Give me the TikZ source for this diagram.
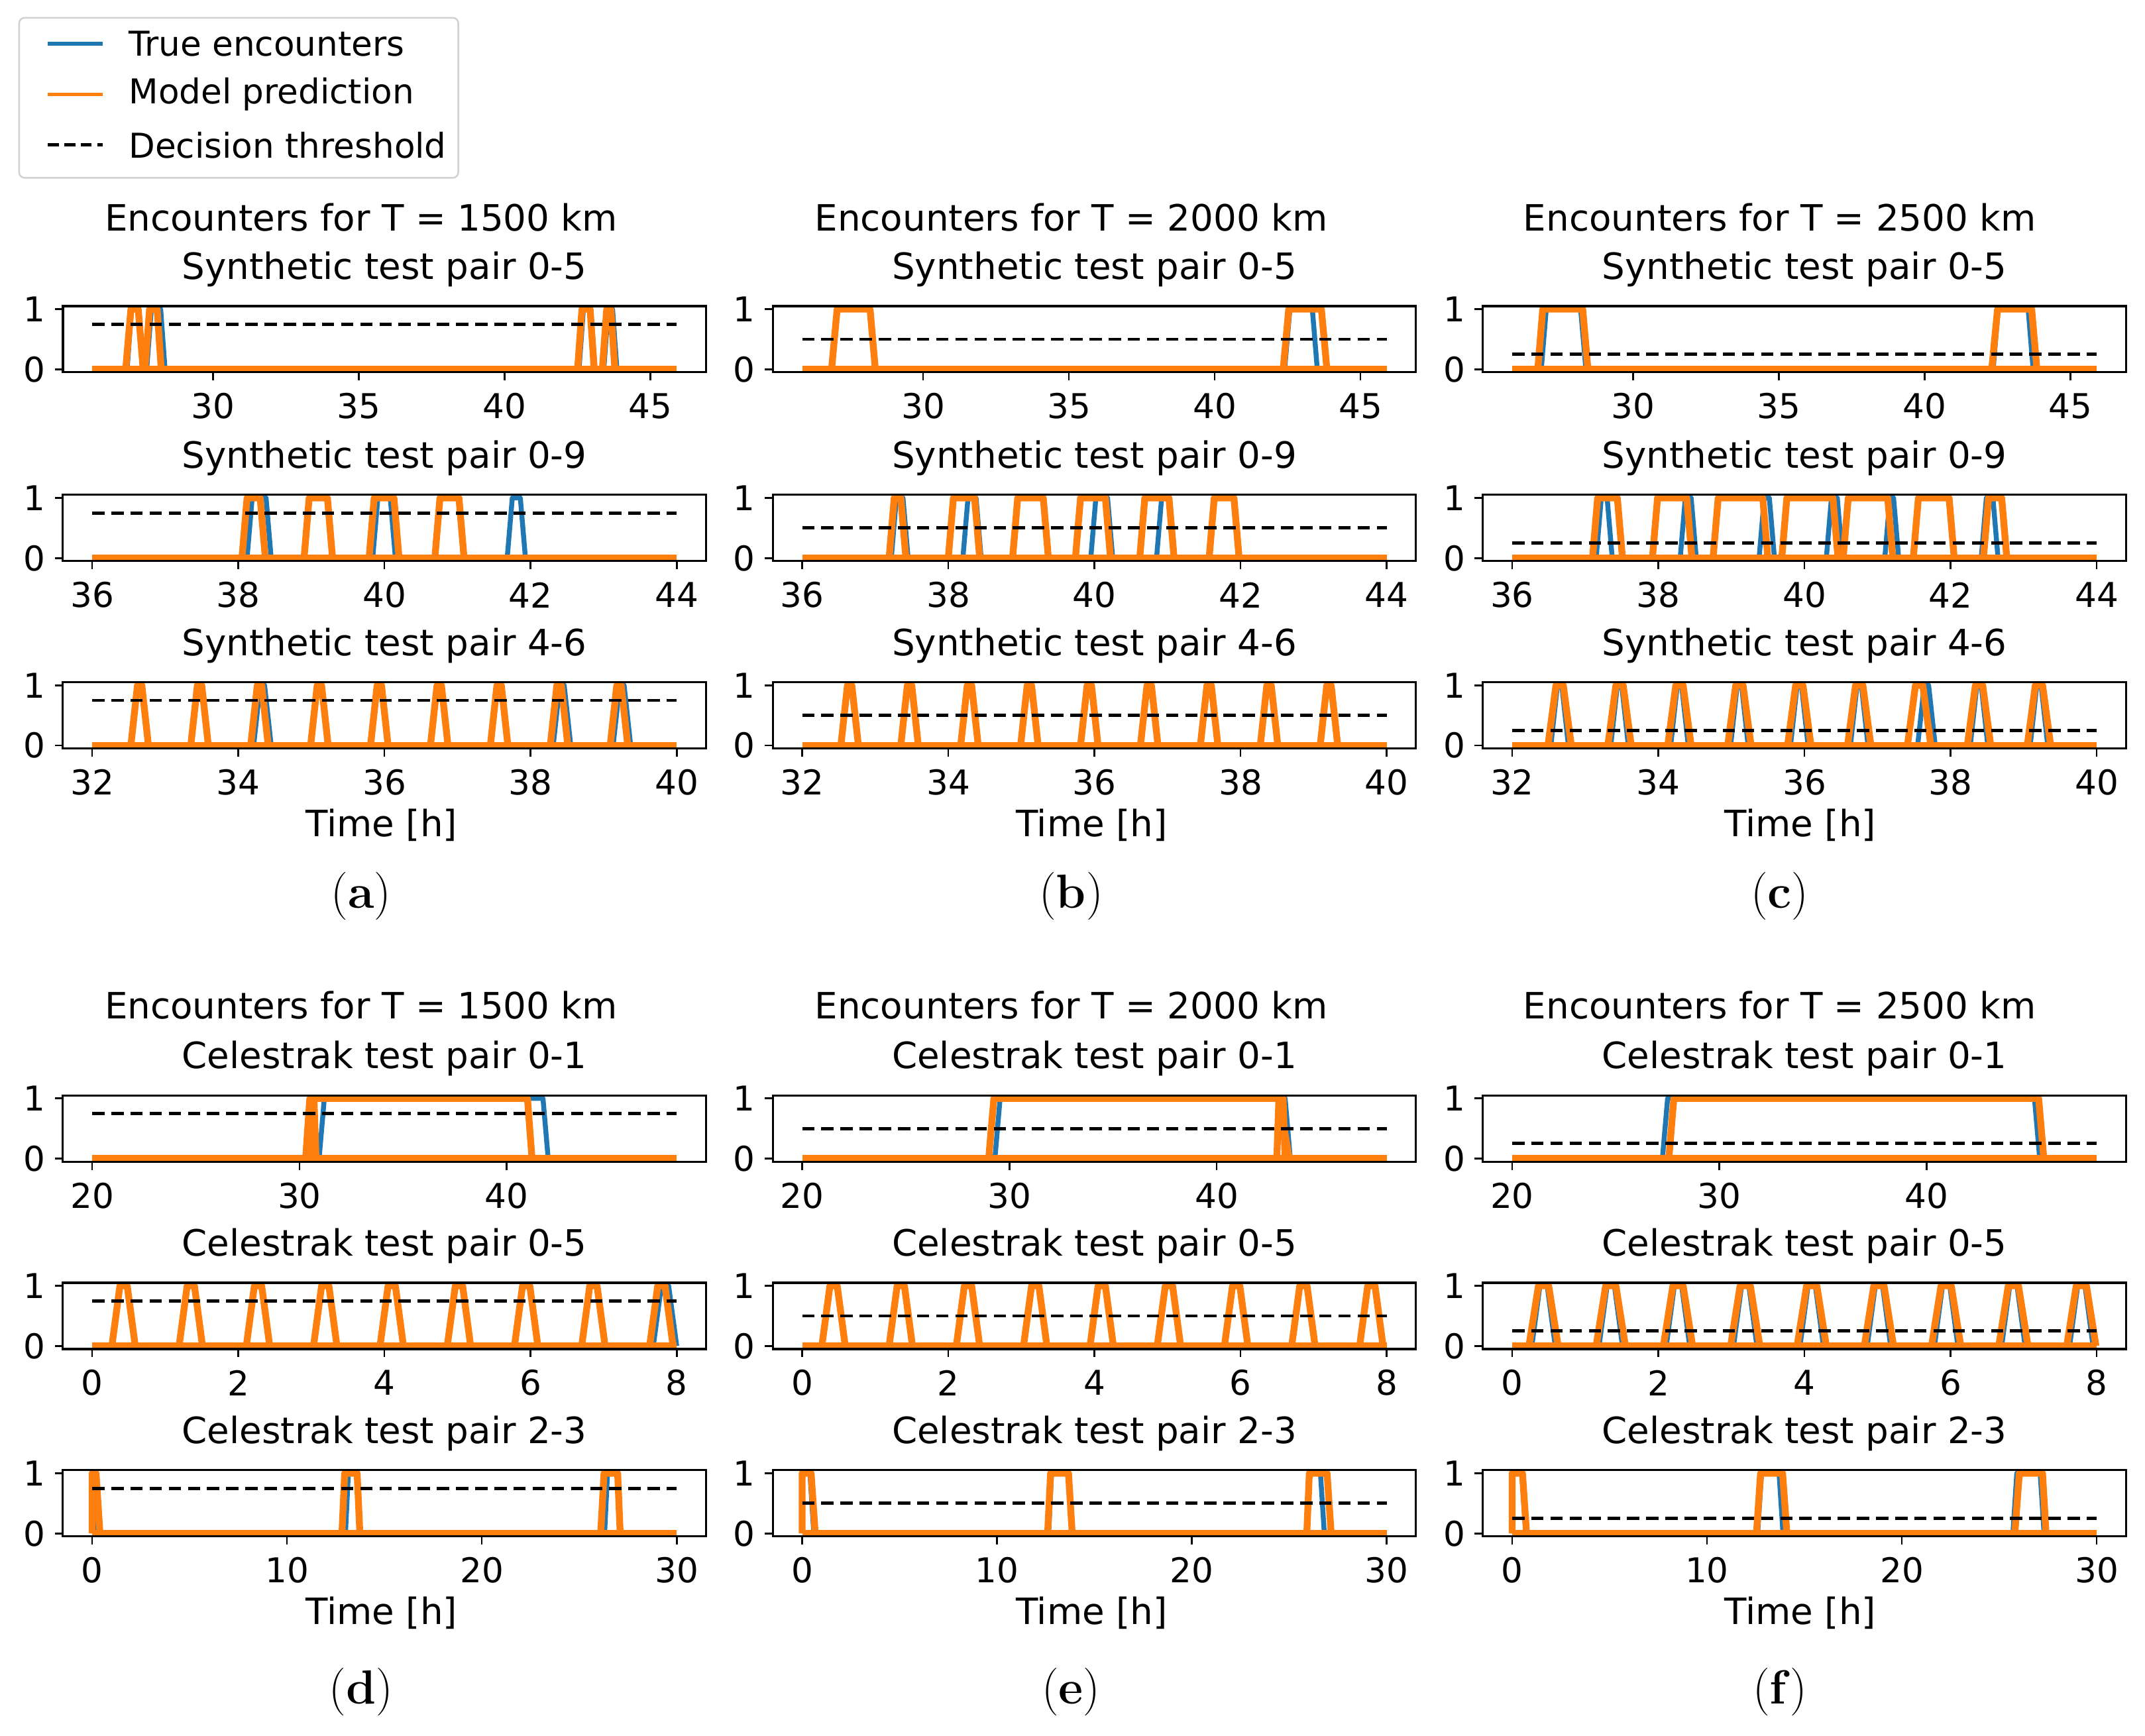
\documentclass[tikz,border=0pt]{standalone}
\usepackage{fontspec}
\newfontfamily\dv{DejaVu Sans}
\definecolor{tblue}{HTML}{1F77B4}
\definecolor{torange}{HTML}{FF7F0E}
\tikzset{
 bl/.style={draw=tblue,line width=3.6pt,line join=round},
 ol/.style={draw=torange,line width=5pt,line join=round},
 thr/.style={draw=black,line width=2.4pt,dash pattern=on 9pt off 5pt},
 axbox/.style={draw=black,line width=1.5pt},
 tk/.style={draw=black,line width=1.3pt},
 lab/.style={font=\dv\fontsize{25}{29}\selectfont,inner sep=0pt},
 ttl/.style={font=\dv\fontsize{26.5}{30}\selectfont,inner sep=0pt},
}
% #1 x0 box, #2 y0 (value 0, px down), #3 dmin, #4 dmax, #5 thr, #6 ticks, #7 blue, #8 orange, #9 title
\newcommand\mypanel[9]{%
\pgfmathsetmacro\sx{427.3/(#4-#3)}%
\pgfmathsetmacro\ox{#1+21.36-#3*\sx}%
\pgfmathsetmacro\lo{#3-0.05*(#4-#3)}%
\pgfmathsetmacro\hi{#4+0.05*(#4-#3)}%
\pgfmathsetmacro\md{(#3+#4)/2}%
\begin{scope}[shift={(\ox pt,-#2 pt)},x=\sx pt,y=44pt]
 \draw[bl] (#3,0)--(#4,0);
 \foreach \a/\b/\c/\d in {#7} \draw[bl] (\a,0)--(\b,1)--(\c,1)--(\d,0);
 \draw[ol] (#3,0)--(#4,0);
 \foreach \a/\b/\c/\d in {#8} \draw[ol] (\a,0)--(\b,1)--(\c,1)--(\d,0);
 \draw[thr] (#3,#5)--(#4,#5);
 \draw[axbox] (\lo,-0.05) rectangle (\hi,1.05);
 \foreach \t in {#6} {\draw[tk] (\t,-0.05)--++(0,-6pt); \node[lab] at (\t,0) [yshift=-27pt] {\t};}
 \draw[tk] (\lo,0)--++(-6pt,0); \node[lab] at (\lo,0) [xshift=-21pt] {0};
 \draw[tk] (\lo,1)--++(-6pt,0); \node[lab] at (\lo,1) [xshift=-21pt] {1};
 \node[ttl] at (\md,1) [yshift=29pt] {#9};
\end{scope}}
\begin{document}
\begin{tikzpicture}[x=1pt,y=1pt]
\useasboundingbox (0,0) rectangle (1568,-1269);
\fill[white] (0,0) rectangle (1568,-1269);
% legend
\draw[rounded corners=4pt,draw=black!18,line width=1.2pt,fill=white] (14,-13) rectangle (335,-130);
\draw[draw=tblue,line width=2.6pt] (35,-32)--(75,-32);
\draw[draw=torange,line width=2.6pt] (35,-69)--(75,-69);
\draw[draw=black,line width=2.4pt,dash pattern=on 8pt off 4pt] (35,-106)--(75,-106);
\node[lab,anchor=west] at (94,-32) {True encounters};
\node[lab,anchor=west] at (94,-69) {Model prediction};
\node[lab,anchor=west] at (94,-106) {Decision threshold};
% ===== Row 1
\mypanel{46}{270}{25.85}{45.9}{0.75}{30,35,40,45}
 {27.05/27.2/27.45/27.6,27.72/27.88/28.2/28.35,42.55/42.7/42.95/43.1,43.4/43.55/43.7/43.85}
 {27.0/27.18/27.43/27.6,27.66/27.82/28.08/28.22,42.5/42.65/42.93/43.07,43.35/43.5/43.64/43.78}
 {Synthetic test pair 0-5}
\mypanel{565}{270}{25.85}{45.9}{0.5}{30,35,40,45}
 {26.86/27.05/28.18/28.36,42.4/42.58/43.35/43.52}
 {26.86/27.05/28.18/28.36,42.35/42.54/43.66/43.85}
 {Synthetic test pair 0-5}
\mypanel{1084}{270}{25.85}{45.9}{0.25}{30,35,40,45}
 {26.85/27.02/28.2/28.38,42.35/42.52/43.55/43.72}
 {26.73/26.9/28.27/28.45,42.3/42.5/43.67/43.85}
 {Synthetic test pair 0-5}
% ===== Row 2
\mypanel{46}{408}{36}{44}{0.75}{36,38,40,42,44}
 {38.12/38.19/38.38/38.45,39.84/39.91/40.08/40.15,41.68/41.75/41.86/41.93}
 {38.05/38.12/38.3/38.37,38.9/38.97/39.22/39.29,39.79/39.86/40.13/40.2,40.69/40.76/41.02/41.09}
 {Synthetic test pair 0-9}
\mypanel{565}{408}{36}{44}{0.5}{36,38,40,42,44}
 {37.22/37.29/37.38/37.45,38.2/38.27/38.38/38.45,39.95/40.02/40.18/40.25,40.85/40.92/41.03/41.1}
 {37.19/37.26/37.35/37.42,38.0/38.07/38.36/38.43,38.88/38.95/39.3/39.37,39.74/39.81/40.15/40.22,40.62/40.69/41.02/41.09,41.57/41.64/41.91/41.98}
 {Synthetic test pair 0-9}
\mypanel{1084}{408}{36}{44}{0.25}{36,38,40,42,44}
 {37.15/37.22/37.3/37.37,38.3/38.37/38.45/38.52,39.38/39.45/39.52/39.59,40.3/40.37/40.45/40.52,41.1/41.17/41.22/41.29,42.42/42.49/42.58/42.65}
 {37.1/37.17/37.44/37.51,37.92/37.99/38.39/38.46,38.75/38.82/39.43/39.5,39.69/39.76/40.39/40.46,40.53/40.6/41.14/41.21,41.49/41.56/41.98/42.05,42.45/42.52/42.7/42.77}
 {Synthetic test pair 0-9}
% ===== Row 3
\mypanel{46}{545}{32}{40}{0.75}{32,34,36,38,40}
 {32.53/32.62/32.68/32.77,33.35/33.44/33.50/33.59,34.21/34.30/34.36/34.45,34.99/35.08/35.14/35.23,35.81/35.90/35.96/36.05,36.63/36.72/36.78/36.87,37.45/37.54/37.60/37.69,38.31/38.40/38.46/38.55,39.13/39.22/39.28/39.37}
 {32.53/32.62/32.68/32.77,33.35/33.44/33.50/33.59,34.17/34.26/34.32/34.41,34.99/35.08/35.14/35.23,35.81/35.90/35.96/36.05,36.63/36.72/36.78/36.87,37.45/37.54/37.60/37.69,38.27/38.36/38.42/38.51,39.09/39.18/39.24/39.33}
 {Synthetic test pair 4-6}
\mypanel{565}{545}{32}{40}{0.5}{32,34,36,38,40}
 {32.53/32.62/32.68/32.77,33.35/33.44/33.50/33.59,34.17/34.26/34.32/34.41,34.99/35.08/35.14/35.23,35.81/35.90/35.96/36.05,36.63/36.72/36.78/36.87,37.45/37.54/37.60/37.69,38.27/38.36/38.42/38.51,39.09/39.18/39.24/39.33}
 {32.53/32.62/32.68/32.77,33.35/33.44/33.50/33.59,34.17/34.26/34.32/34.41,34.99/35.08/35.14/35.23,35.81/35.90/35.96/36.05,36.63/36.72/36.78/36.87,37.45/37.54/37.60/37.69,38.27/38.36/38.42/38.51,39.09/39.18/39.24/39.33}
 {Synthetic test pair 4-6}
\mypanel{1084}{545}{32}{40}{0.25}{32,34,36,38,40}
 {32.53/32.62/32.68/32.77,33.35/33.44/33.50/33.59,34.17/34.26/34.32/34.41,34.99/35.08/35.14/35.23,35.81/35.90/35.96/36.05,36.63/36.72/36.78/36.87,37.55/37.64/37.70/37.79,38.27/38.36/38.42/38.51,39.09/39.18/39.24/39.33}
 {32.49/32.60/32.70/32.81,33.31/33.42/33.52/33.63,34.13/34.24/34.34/34.45,34.95/35.06/35.16/35.27,35.77/35.88/35.98/36.09,36.59/36.70/36.80/36.91,37.41/37.52/37.62/37.73,38.23/38.34/38.44/38.55,39.05/39.16/39.26/39.37}
 {Synthetic test pair 4-6}
% ===== Row 4
\mypanel{46}{847}{20}{48.2}{0.75}{20,30,40}
 {30.95/31.2/41.75/42.0}
 {30.3/30.5/41.0/41.22,30.55/30.65/30.7/30.8}
 {Celestrak test pair 0-1}
\mypanel{565}{847}{20}{48.2}{0.5}{20,30,40}
 {29.3/29.55/43.3/43.55}
 {29.0/29.25/43.0/43.5,42.9/43.0/43.2/43.3}
 {Celestrak test pair 0-1}
\mypanel{1084}{847}{20}{48.2}{0.25}{20,30,40}
 {27.25/27.5/45.2/45.45}
 {27.56/27.8/45.4/45.65}
 {Celestrak test pair 0-1}
% ===== Row 5
\mypanel{46}{984}{0}{8}{0.75}{0,2,4,6,8}
 {0.27/0.38/0.48/0.59,1.19/1.30/1.40/1.51,2.11/2.22/2.32/2.43,3.03/3.14/3.24/3.35,3.94/4.05/4.15/4.26,4.86/4.97/5.07/5.18,5.78/5.89/5.99/6.10,6.70/6.81/6.91/7.02,7.68/7.79/7.89/8.0}
 {0.27/0.38/0.48/0.59,1.19/1.30/1.40/1.51,2.11/2.22/2.32/2.43,3.03/3.14/3.24/3.35,3.94/4.05/4.15/4.26,4.86/4.97/5.07/5.18,5.78/5.89/5.99/6.10,6.70/6.81/6.91/7.02,7.63/7.74/7.84/7.95}
 {Celestrak test pair 0-5}
\mypanel{565}{984}{0}{8}{0.5}{0,2,4,6,8}
 {0.27/0.38/0.48/0.59,1.19/1.30/1.40/1.51,2.11/2.22/2.32/2.43,3.03/3.14/3.24/3.35,3.94/4.05/4.15/4.26,4.86/4.97/5.07/5.18,5.78/5.89/5.99/6.10,6.70/6.81/6.91/7.02,7.63/7.74/7.84/7.95}
 {0.27/0.38/0.48/0.59,1.19/1.30/1.40/1.51,2.11/2.22/2.32/2.43,3.03/3.14/3.24/3.35,3.94/4.05/4.15/4.26,4.86/4.97/5.07/5.18,5.78/5.89/5.99/6.10,6.70/6.81/6.91/7.02,7.63/7.74/7.84/7.95}
 {Celestrak test pair 0-5}
\mypanel{1084}{984}{0}{8}{0.25}{0,2,4,6,8}
 {0.27/0.38/0.48/0.59,1.19/1.30/1.40/1.51,2.11/2.22/2.32/2.43,3.03/3.14/3.24/3.35,3.94/4.05/4.15/4.26,4.86/4.97/5.07/5.18,5.78/5.89/5.99/6.10,6.70/6.81/6.91/7.02,7.63/7.74/7.84/7.95}
 {0.23/0.36/0.50/0.63,1.15/1.28/1.42/1.55,2.07/2.20/2.34/2.47,2.99/3.12/3.26/3.39,3.90/4.03/4.17/4.30,4.82/4.95/5.09/5.22,5.74/5.87/6.01/6.14,6.66/6.79/6.93/7.06,7.59/7.72/7.86/7.99}
 {Celestrak test pair 0-5}
% ===== Row 6
\mypanel{46}{1121}{0}{30}{0.75}{0,10,20,30}
 {0/0/0.15/0.3,13.0/13.15/13.6/13.75,26.3/26.45/26.95/27.1}
 {0/0/0.2/0.4,12.82/12.96/13.6/13.74,26.1/26.27/26.97/27.1}
 {Celestrak test pair 2-3}
\mypanel{565}{1121}{0}{30}{0.5}{0,10,20,30}
 {0/0/0.4/0.6,12.65/12.8/13.7/13.85,25.9/26.05/26.6/26.8}
 {0/0/0.46/0.67,12.6/12.75/13.67/13.86,25.9/26.03/26.94/27.15}
 {Celestrak test pair 2-3}
\mypanel{1084}{1121}{0}{30}{0.25}{0,10,20,30}
 {0/0/0.5/0.7,12.6/12.8/13.7/13.9,25.7/25.9/27.1/27.3}
 {0/0/0.53/0.74,12.54/12.75/13.88/14.1,25.8/26.03/27.22/27.4}
 {Celestrak test pair 2-3}
% super titles and axis labels
\foreach \x/\T in {264/1500,783/2000,1301/2500}{
 \node[ttl] (st\T) at (\x,-159) {Encounters for T = \T\ km};
 \node[ttl] (sb\T) at (\x,-735) {Encounters for T = \T\ km};
 \node[ttl] (ta\T) at (\x+15,-603) {Time [h]};
 \node[ttl] (tb\T) at (\x+15,-1179) {Time [h]};
}
% sub-figure labels
\foreach \x/\y/\l in {264/655/a,783/655/b,1301/655/c,264/1237/d,783/1237/e,1301/1237/f}
 \node[font=\fontsize{35}{40}\selectfont,inner sep=0pt] (lab\l) at (\x,-\y) {(\textbf{\l})};
\end{tikzpicture}
\end{document}
